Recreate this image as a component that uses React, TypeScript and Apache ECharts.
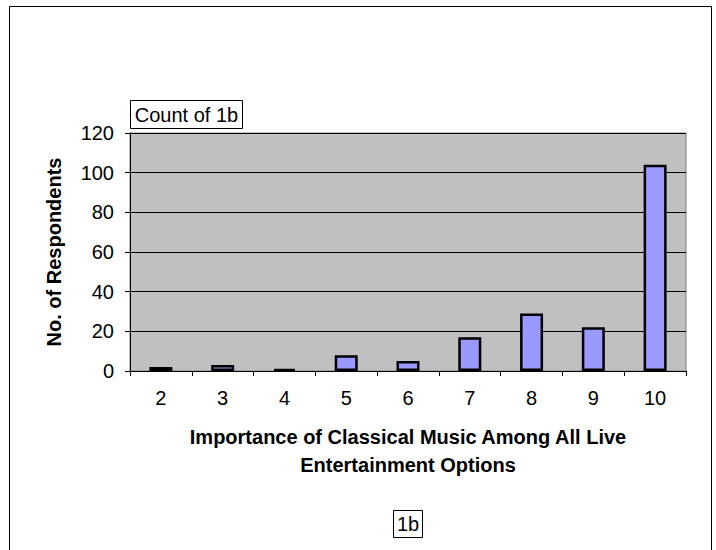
import React, { useEffect, useRef } from "react";
import * as echarts from "echarts";

const categories = ["2", "3", "4", "5", "6", "7", "8", "9", "10"];
const counts = [2, 3, 1, 8, 5, 17, 29, 22, 104];
const yTicks = { min: 0, max: 120, interval: 20 };
const xTitle = "Importance of Classical Music Among All Live\nEntertainment Options";
const yTitle = "No. of Respondents";
const fieldLabel = "Count of 1b";
const pageLabel = "1b";

const FONT = "'Liberation Sans', Arial, Helvetica, sans-serif";

export default function App() {
  const ref = useRef<HTMLDivElement>(null);
  useEffect(() => {
    if (!ref.current) return;
    const chart = echarts.init(ref.current, null, { renderer: "svg" });
    chart.setOption({
      animation: false,
      backgroundColor: "#ffffff",
      textStyle: { fontFamily: FONT },
      grid: {
        left: 130,
        top: 133,
        width: 556,
        height: 238,
        show: true,
        backgroundColor: "#C0C0C0",
        borderColor: "#808080",
        borderWidth: 1,
      },
      xAxis: {
        type: "category",
        data: categories,
        name: xTitle,
        nameLocation: "middle",
        nameGap: 52,
        nameTextStyle: { fontFamily: FONT, fontSize: 20, fontWeight: "bold", color: "#000", lineHeight: 28 },
        axisLine: { show: true, lineStyle: { color: "#000", width: 1 } },
        axisTick: { show: true, alignWithLabel: false, length: 5, lineStyle: { color: "#000" } },
        axisLabel: { fontFamily: FONT, fontSize: 20, color: "#000", margin: 17 },
        splitLine: { show: false },
      },
      yAxis: {
        type: "value",
        min: yTicks.min,
        max: yTicks.max,
        interval: yTicks.interval,
        name: yTitle,
        nameLocation: "middle",
        nameGap: 66,
        nameTextStyle: { fontFamily: FONT, fontSize: 20, fontWeight: "bold", color: "#000" },
        axisLine: { show: true, lineStyle: { color: "#000", width: 1 } },
        axisTick: { show: true, length: 5, lineStyle: { color: "#000" } },
        axisLabel: { fontFamily: FONT, fontSize: 20, color: "#000", margin: 16 },
        splitLine: { show: true, lineStyle: { color: "#000", width: 1 } },
      },
      series: [
        {
          type: "bar",
          data: counts,
          barWidth: 23,
          itemStyle: { color: "#9999FF", borderColor: "#000", borderWidth: 2.5 },
        },
      ],
      graphic: [
        {
          type: "rect",
          shape: { x: 9.5, y: 6.5, width: 702, height: 560 },
          style: { fill: "none", stroke: "#000", lineWidth: 1 },
          z: 100,
        },
        {
          type: "rect",
          shape: { x: 130.5, y: 100.5, width: 112, height: 28 },
          style: { fill: "#fff", stroke: "#000", lineWidth: 1 },
          z: 100,
        },
        {
          type: "text",
          x: 186.5,
          y: 114.5,
          style: { text: fieldLabel, fontFamily: FONT, fontSize: 20, fill: "#000", align: "center", verticalAlign: "middle" },
          z: 101,
        },
        {
          type: "rect",
          shape: { x: 393.5, y: 510.5, width: 29, height: 27 },
          style: { fill: "#fff", stroke: "#000", lineWidth: 1 },
          z: 100,
        },
        {
          type: "text",
          x: 408,
          y: 524,
          style: { text: pageLabel, fontFamily: FONT, fontSize: 20, fill: "#000", align: "center", verticalAlign: "middle" },
          z: 101,
        },
      ],
    });
    return () => chart.dispose();
  }, []);
  return (
    <div
      ref={ref}
      style={{ position: "fixed", left: 0, top: 0, width: 716, height: 550, background: "#fff" }}
    />
  );
}
